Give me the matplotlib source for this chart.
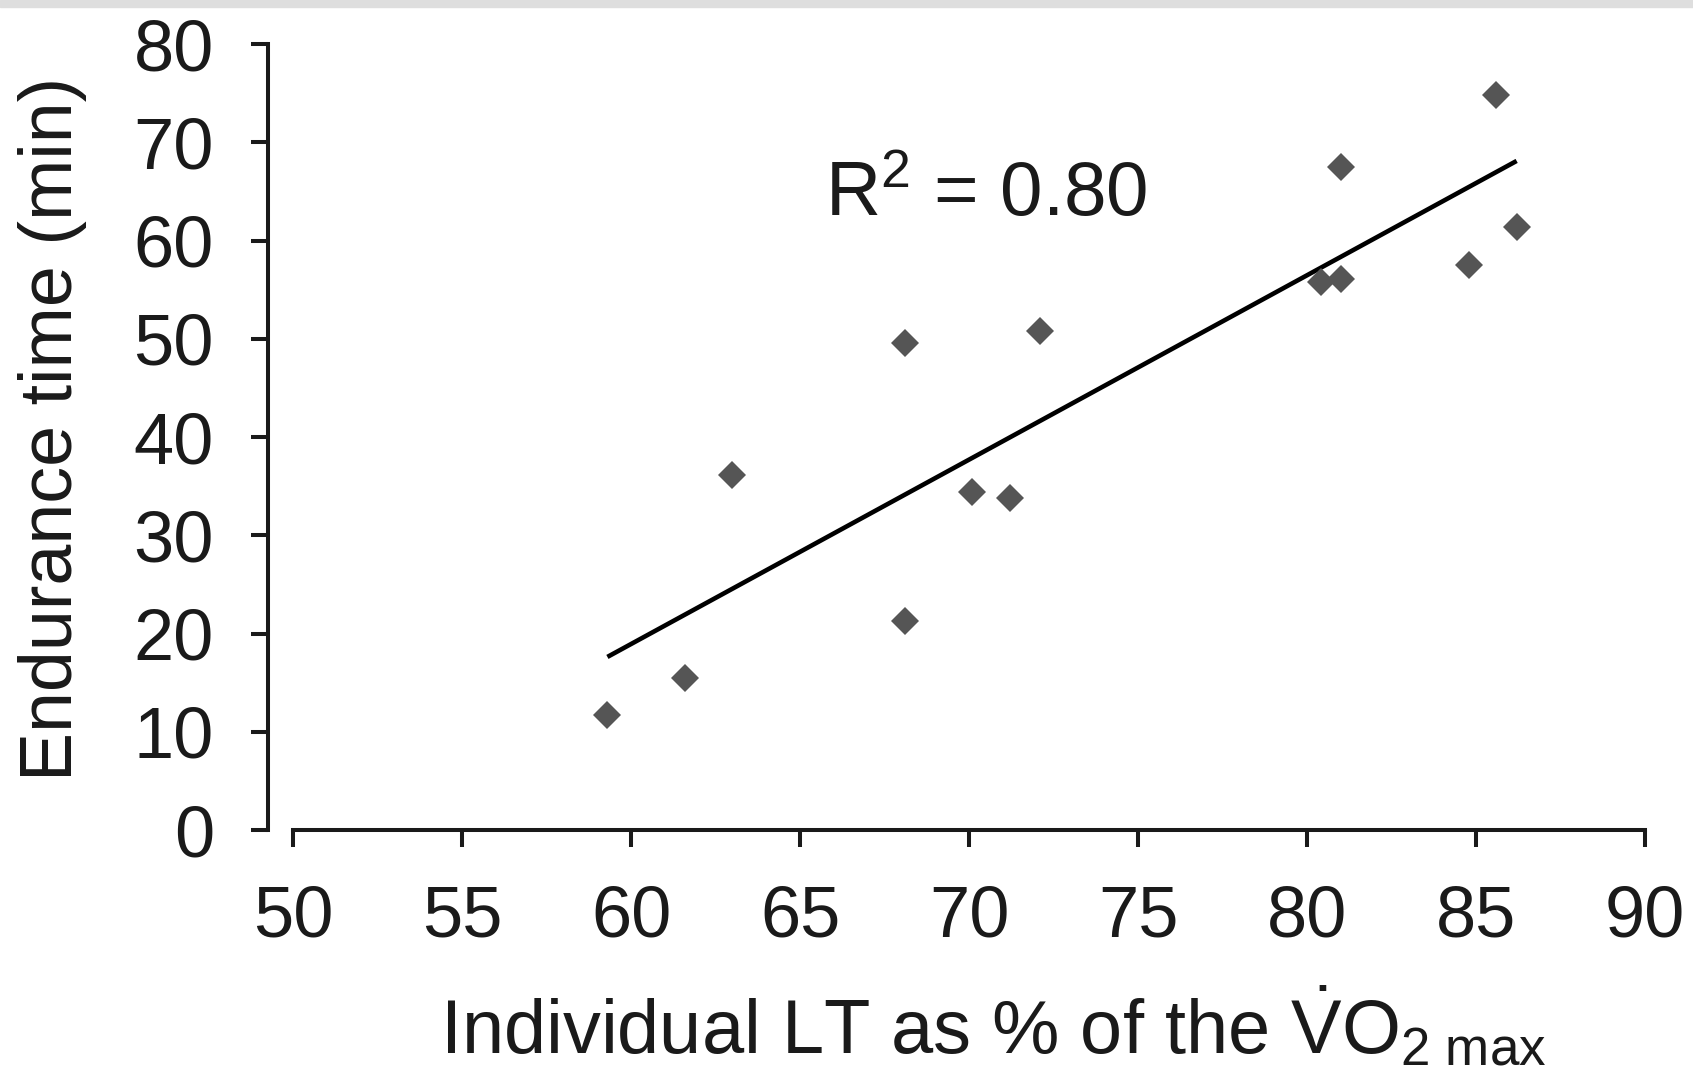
import numpy as np
import matplotlib.pyplot as plt
from matplotlib.patches import Rectangle

# individual LT (% of VO2max) and endurance time (min)
lt_pct = [59.3, 61.6, 63.0, 68.1, 68.1, 70.1, 71.2, 72.1, 80.4, 81.0, 81.0, 84.8, 85.6, 86.2]
endurance = [11.7, 15.5, 36.1, 49.6, 21.3, 34.4, 33.8, 50.8, 55.8, 56.1, 67.5, 57.5, 74.8, 61.4]

x_ticks = [50, 55, 60, 65, 70, 75, 80, 85, 90]
y_ticks = [0, 10, 20, 30, 40, 50, 60, 70, 80]
r2_label = "0.80"

plt.rcParams['font.family'] = ['Liberation Sans', 'DejaVu Sans']
plt.rcParams['mathtext.fontset'] = 'custom'
plt.rcParams['mathtext.rm'] = 'Liberation Sans'
plt.rcParams['mathtext.it'] = 'Liberation Sans:italic'

fs = 52
ink = '#1a1a1a'

fig = plt.figure(figsize=(16.93, 10.76), dpi=100)
# grey strip along the top edge
fig.patches.append(Rectangle((0, 0.9935), 1, 0.0065, transform=fig.transFigure,
                             color='#dedede', zorder=0))

ax = fig.add_axes([0.1731, 0.2286, 0.7986, 0.7305])

# linear regression line
x = np.array(lt_pct)
y = np.array(endurance)
slope, icpt = np.polyfit(x, y, 1)
xl = np.array([x.min(), x.max()])
ax.plot(xl, slope * xl + icpt, color='black', lw=3.3, solid_capstyle='butt', zorder=2)

ax.plot(x, y, linestyle='none', marker='D', markersize=14, color='#555555',
        markeredgewidth=0, zorder=3)

ax.text(65.75, 62.5, r'R$^2$ = ' + r2_label, fontsize=55, color=ink,
        ha='left', va='baseline')

ax.set_xlim(50, 90)
ax.set_ylim(0, 80)
ax.set_xticks(x_ticks)
ax.set_yticks(y_ticks)

for s in ['top', 'right']:
    ax.spines[s].set_visible(False)
for s in ['left', 'bottom']:
    ax.spines[s].set_linewidth(2.9)
    ax.spines[s].set_color(ink)
ax.spines['left'].set_position(('outward', 18))

ax.tick_params(direction='out', length=12, width=2.9, color=ink,
               labelsize=fs, labelcolor=ink, pad=27)

ax.set_ylabel('Endurance time (min)', fontsize=53, color=ink)
ax.yaxis.set_label_coords(-0.178, 0.51)
ax.yaxis.label.set_va('center')

ax.set_xlabel(r'Individual LT as % of the $\dot{\mathrm{V}}\mathrm{O}_{2\ \mathrm{max}}$',
              fontsize=54.5, color=ink)
ax.xaxis.set_label_coords(0.518, -0.284)
ax.xaxis.label.set_va('baseline')

fig.savefig('out.png', dpi=100)
